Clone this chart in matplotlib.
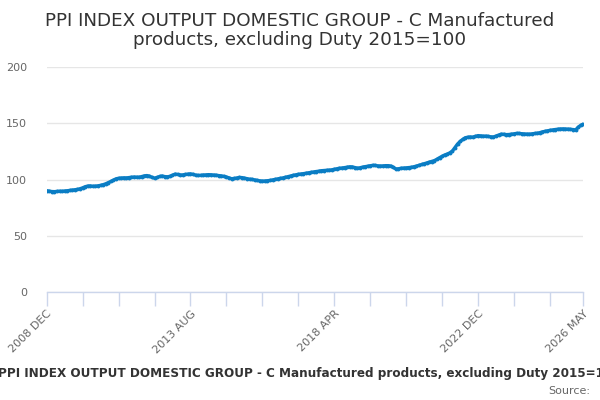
import matplotlib
matplotlib.use("Agg")
import matplotlib.pyplot as plt
import numpy as np

title = "PPI INDEX OUTPUT DOMESTIC GROUP - C Manufactured\nproducts, excluding Duty 2015=100"
caption = "PPI INDEX OUTPUT DOMESTIC GROUP - C Manufactured products, excluding Duty 2015=100"
source = "Source:"

# monthly values, 2008 DEC .. 2026 MAY
values = [
    90.0, 89.6, 89.3, 89.2, 89.4, 89.6, 89.5, 89.8, 90.0, 90.3, 90.6, 90.9,
    91.2, 91.8, 92.6, 93.6, 94.2, 94.3, 94.0, 94.1, 94.4, 94.8, 95.4, 96.2,
    97.2, 98.3, 99.5, 100.6, 101.1, 101.3, 101.5, 101.4, 101.7, 102.0, 102.2, 102.1,
    102.0, 102.6, 103.2, 103.5, 103.0, 101.9, 101.2, 101.8, 102.7, 103.1, 102.6, 102.4,
    102.8, 103.8, 104.8, 104.5, 104.0, 104.1, 104.5, 104.8, 105.0, 104.6, 103.9, 103.6,
    103.7, 104.0, 104.1, 104.3, 104.2, 104.0, 103.8, 103.5, 103.2, 102.8, 102.2, 101.4,
    100.7, 100.9, 101.4, 101.8, 101.7, 101.2, 100.6, 100.3, 100.1, 99.6, 99.2, 98.8,
    98.6, 98.7, 98.9, 99.2, 99.6, 100.1, 100.6, 101.0, 101.4, 102.0, 102.6, 103.2,
    103.7, 104.2, 104.6, 104.9, 105.2, 105.6, 106.0, 106.5, 106.8, 107.1, 107.4, 107.8,
    108.0, 108.2, 108.3, 108.6, 109.1, 109.5, 110.0, 110.2, 110.6, 111.0, 111.3, 111.2,
    110.6, 110.1, 110.4, 111.0, 111.4, 111.8, 112.3, 112.6, 112.5, 112.1, 112.0, 112.1,
    112.3, 112.3, 112.0, 110.8, 109.4, 109.5, 110.0, 110.2, 110.3, 110.6, 110.8, 111.3,
    111.9, 112.6, 113.4, 114.1, 114.8, 115.5, 116.0, 116.8, 118.0, 119.4, 120.6, 121.8,
    122.6, 123.7, 125.3, 128.4, 131.5, 133.8, 135.6, 137.1, 137.6, 137.8, 137.7, 138.4,
    139.0, 138.8, 138.5, 138.6, 138.3, 137.9, 137.8, 138.6, 139.5, 140.3, 140.2, 139.9,
    140.0, 140.3, 140.6, 141.0, 140.9, 140.7, 140.5, 140.4, 140.3, 140.6, 140.9, 141.1,
    141.6, 142.3, 142.8, 143.2, 143.7, 144.1, 144.4, 144.7, 144.9, 145.0, 144.9, 144.8,
    144.6, 144.4, 144.1, 146.5, 148.2, 149.3,
]

tick_labels = ["2008 DEC", "2013 AUG", "2018 APR", "2022 DEC", "2026 MAY"]
yticks = [0, 50, 100, 150, 200]

n = len(values)
x = np.arange(n)

fig = plt.figure(figsize=(6, 4), dpi=100)
ax = fig.add_axes([0.0778, 0.27, 0.8944, 0.5625])

ax.plot(x, values, color="#0a7dc4", lw=2.4, marker="o", markersize=2.8,
        markeredgewidth=0, solid_capstyle="round", zorder=3)

ax.set_xlim(0, n - 1)
ax.set_ylim(0, 200)
ax.set_yticks(yticks)
ax.set_yticklabels([str(v) for v in yticks], color="#666666", fontsize=8)
ax.yaxis.grid(True, color="#e6e6e6", lw=1)
ax.set_axisbelow(True)
ax.tick_params(axis="y", length=0, pad=14)

major = list(range(0, n - 1, 14)) + [n - 1]
ax.set_xticks(major)
lab_pos = [0, 56, 112, 168, n - 1]
labels = []
for p in major:
    if p in lab_pos:
        labels.append(tick_labels[lab_pos.index(p)])
    else:
        labels.append("")
ax.set_xticklabels(labels, rotation=45, ha="right", rotation_mode="anchor",
                   color="#666666", fontsize=8)
ax.tick_params(axis="x", length=10, color="#ccd6eb", width=1, pad=2)

for s in ["top", "right", "left"]:
    ax.spines[s].set_visible(False)
ax.spines["bottom"].set_color("#ccd6eb")
ax.spines["bottom"].set_linewidth(1)

fig.text(0.5, 0.97, title, ha="center", va="top", fontsize=13.2, color="#333333",
         linespacing=1.1)
fig.text(0.515, 0.065, caption, ha="center", va="center", fontsize=8.65,
         color="#333333", fontweight="bold")
fig.text(0.983, 0.022, source, ha="right", va="center", fontsize=8, color="#666666")

fig.savefig("out.png", dpi=100)
